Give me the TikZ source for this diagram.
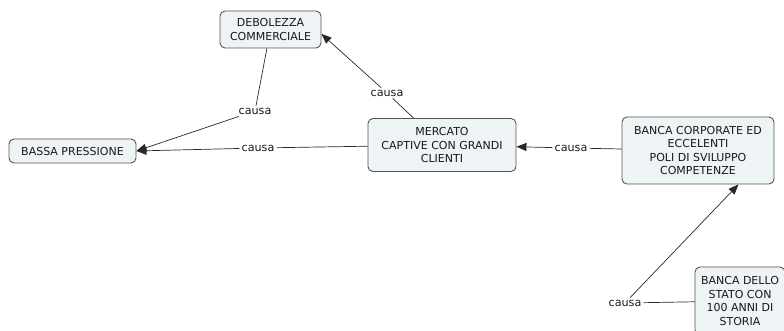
\documentclass[tikz,border=0pt]{standalone}
\usepackage{fontspec}
\setmainfont{DejaVu Sans}
\usetikzlibrary{arrows.meta}
\definecolor{boxfill}{RGB}{238,243,245}
\definecolor{boxline}{RGB}{85,85,85}
\definecolor{linkc}{RGB}{40,40,40}
\begin{document}
\begin{tikzpicture}[x=1pt,y=-1pt,
  concept/.style={draw=boxline,fill=boxfill,rounded corners=5pt,line width=0.9pt,
    align=center,inner sep=2pt,font=\fontsize{11}{13.5}\selectfont,text=black!90},
  linklabel/.style={inner sep=2pt,font=\fontsize{11.2}{13}\selectfont,text=black!90},
  conn/.style={draw=linkc,line width=0.7pt},
  arr/.style={conn,-{Triangle[length=10pt,width=8pt]}}]
\useasboundingbox (0,0) rectangle (784,331);
\begin{scope}
\clip (0,0) rectangle (784,331);
\node[concept,minimum width=101pt,minimum height=37pt] (deb) at (270.5,29.5) {DEBOLEZZA\\COMMERCIALE};
\node[concept,minimum width=127pt,minimum height=24pt] (bassa) at (72.5,151) {BASSA PRESSIONE};
\node[concept,minimum width=148pt,minimum height=53pt] (mer) at (442,145) {MERCATO\\CAPTIVE CON GRANDI\\CLIENTI};
\node[concept,minimum width=152pt,minimum height=67pt] (banca) at (698,150.5) {BANCA CORPORATE ED\\ECCELENTI\\POLI DI SVILUPPO\\COMPETENZE};
\node[concept,minimum width=90pt,minimum height=68pt] (stato) at (740,301) {BANCA DELLO\\STATO CON\\100 ANNI DI\\STORIA};

\node[linklabel] (l1) at (255,111) {causa};
\node[linklabel] (l2) at (258,148) {causa};
\node[linklabel] (l3) at (387,93) {causa};
\node[linklabel] (l4) at (571,148) {causa};
\node[linklabel] (l5) at (625,303) {causa};

\draw[conn] (deb) -- (l1);
\draw[arr] (l1) -- (bassa.east);
\draw[conn] (mer) -- (l2);
\draw[arr] (l2) -- (bassa.east);
\draw[conn] (mer) -- (l3);
\draw[arr] (l3) -- (deb.-5);
\draw[conn] (banca) -- (l4);
\draw[arr] (l4) -- (mer);
\draw[conn] (stato) -- (l5);
\draw[arr] (l5) -- (banca.-40);
\end{scope}
\end{tikzpicture}
\end{document}
